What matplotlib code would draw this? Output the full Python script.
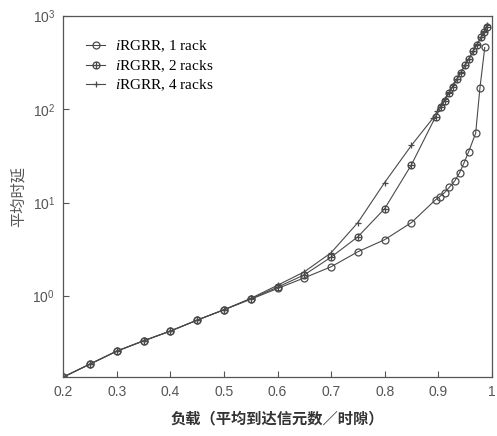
import matplotlib.pyplot as plt
from matplotlib.path import Path
from matplotlib.ticker import FixedLocator, NullLocator

plt.rcParams["mathtext.fontset"] = "custom"
plt.rcParams["mathtext.rm"] = "Liberation Sans"
plt.rcParams["mathtext.it"] = "Liberation Serif:italic"

# ---------- Data ----------
load_1 = [0.20, 0.25, 0.30, 0.35, 0.40, 0.45, 0.50, 0.55, 0.60, 0.65, 0.70,
          0.75, 0.80, 0.85, 0.895, 0.903, 0.912, 0.921, 0.931, 0.940, 0.948,
          0.957, 0.970, 0.978, 0.987]
delay_1 = [0.135, 0.186, 0.256, 0.33, 0.42, 0.55, 0.71, 0.92, 1.20, 1.56, 2.05,
           2.97, 4.0, 6.1, 10.7, 11.6, 12.8, 14.6, 17.1, 20.9, 26.4,
           35.2, 55.4, 170, 460]

load_2 = [0.20, 0.25, 0.30, 0.35, 0.40, 0.45, 0.50, 0.55, 0.60, 0.65, 0.70,
          0.75, 0.80, 0.85, 0.895, 0.905, 0.912, 0.920, 0.927, 0.935, 0.942,
          0.950, 0.957, 0.965, 0.972, 0.980, 0.986, 0.991]
delay_2 = [0.135, 0.186, 0.256, 0.33, 0.42, 0.55, 0.71, 0.93, 1.24, 1.68, 2.6,
           4.3, 8.6, 25.4, 83, 105, 123, 148, 174, 209, 245,
           295, 347, 417, 490, 589, 676, 760]

load_4 = [0.20, 0.25, 0.30, 0.35, 0.40, 0.45, 0.50, 0.55, 0.60, 0.65, 0.70,
          0.75, 0.80, 0.85, 0.890, 0.898, 0.905, 0.913, 0.920, 0.928, 0.935,
          0.943, 0.950, 0.958, 0.965, 0.973, 0.980, 0.986, 0.991]
delay_4 = [0.135, 0.186, 0.256, 0.33, 0.42, 0.55, 0.71, 0.94, 1.30, 1.81, 2.9,
           6.1, 16.4, 41, 80, 95, 110, 130, 152, 180, 212,
           250, 298, 350, 420, 500, 590, 690, 800]

labels = [r"$\mathit{i}$RGRR, 1 rack", r"$\mathit{i}$RGRR, 2 racks",
          r"$\mathit{i}$RGRR, 4 racks"]
x_ticks = [0.2, 0.3, 0.4, 0.5, 0.6, 0.7, 0.8, 0.9, 1]
x_tick_labels = ["0.2", "0.3", "0.4", "0.5", "0.6", "0.7", "0.8", "0.9", "1"]
y_ticks = [1, 10, 100, 1000]
y_tick_labels = [r"$10^0$", r"$10^1$", r"$10^2$", r"$10^3$"]

# circle with a plus inside
oplus = Path.make_compound_path(
    Path.unit_circle(),
    Path([[-1, 0], [1, 0], [0, -1], [0, 1]],
         [Path.MOVETO, Path.LINETO, Path.MOVETO, Path.LINETO]),
)

# ---------- Plot ----------
fig = plt.figure(figsize=(4.97, 4.36), dpi=100)
ax = fig.add_axes([0.1274, 0.1353, 0.862, 0.828])

line_col = "#4a4a4a"
ax.plot(load_1, delay_1, color=line_col, lw=0.8, marker="o", ms=5,
        mfc="none", mec=line_col, mew=0.9, label=labels[0])
ax.plot(load_2, delay_2, color=line_col, lw=0.8, marker=oplus, ms=5,
        mfc="none", mec=line_col, mew=0.9, label=labels[1])
ax.plot(load_4, delay_4, color=line_col, lw=0.8, marker="+", ms=5,
        mec=line_col, mew=0.9, label=labels[2])

ax.set_yscale("log")
ax.set_xlim(0.2, 1.0)
ax.set_ylim(0.135, 1000)

ax.xaxis.set_major_locator(FixedLocator(x_ticks))
ax.set_xticklabels(x_tick_labels)
ax.yaxis.set_major_locator(FixedLocator(y_ticks))
ax.set_yticklabels(y_tick_labels)
ax.yaxis.set_minor_locator(NullLocator())
ax.xaxis.set_minor_locator(NullLocator())

ax.tick_params(direction="in", length=4, width=0.8, colors="#555555",
               labelsize=10, labelcolor="#555555", pad=6,
               labelfontfamily="Liberation Sans")
for s in ax.spines.values():
    s.set_color("#555555")
    s.set_linewidth(0.9)

ax.set_xlabel("负载（平均到达信元数／时隙）", family=["Noto Sans CJK SC"],
              fontsize=11, fontweight="bold", color="#333333", labelpad=8)
ax.set_ylabel("平均时延", family=["Noto Sans CJK SC"], fontsize=11,
              color="#555555", labelpad=4)

leg = ax.legend(loc="upper left", bbox_to_anchor=(0.02, 0.975), frameon=False,
                prop={"family": "Liberation Serif", "size": 11},
                handlelength=1.3, handletextpad=0.6, labelspacing=0.25)

fig.savefig("out.png", dpi=100)
